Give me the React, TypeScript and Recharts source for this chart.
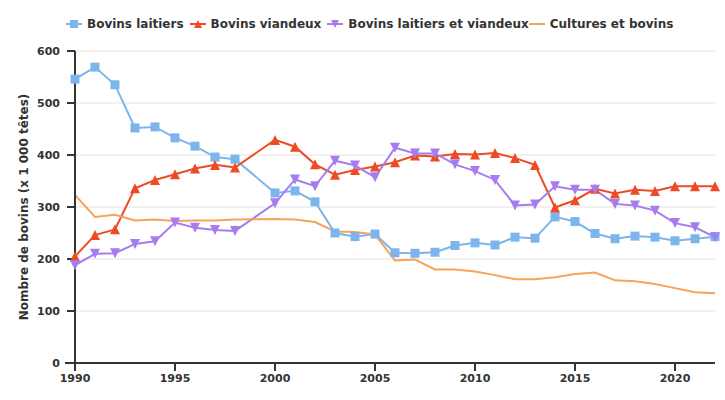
import React from 'react';
import { LineChart, Line, XAxis, YAxis, CartesianGrid, Legend, ReferenceLine } from 'recharts';

const years = [1990, 1991, 1992, 1993, 1994, 1995, 1996, 1997, 1998, 2000, 2001, 2002, 2003, 2004, 2005, 2006, 2007, 2008, 2009, 2010, 2011, 2012, 2013, 2014, 2015, 2016, 2017, 2018, 2019, 2020, 2021, 2022];
const laitiers = [546, 569, 535, 452, 454, 433, 417, 396, 392, 327, 331, 310, 250, 243, 248, 212, 211, 213, 226, 231, 227, 242, 240, 281, 272, 249, 239, 244, 242, 235, 239, 243];
const viandeux = [205, 246, 257, 336, 352, 363, 374, 381, 376, 429, 416, 382, 362, 371, 378, 386, 399, 397, 402, 401, 404, 394, 381, 299, 313, 335, 326, 333, 331, 340, 340, 340];
const mixtes = [188, 210, 211, 229, 234, 270, 260, 256, 254, 307, 353, 340, 389, 380, 357, 414, 403, 403, 382, 369, 352, 303, 305, 340, 333, 333, 306, 303, 293, 269, 261, 242];
const cultures = [323, 281, 285, 274, 276, 273, 274, 274, 276, 277, 276, 271, 253, 252, 247, 197, 199, 180, 180, 176, 169, 161, 161, 165, 171, 174, 159, 157, 152, 144, 136, 134];

const xTicks = [1990, 1995, 2000, 2005, 2010, 2015, 2020];
const yTicks = [0, 100, 200, 300, 400, 500, 600];

const seriesNames = ['Bovins laitiers', 'Bovins viandeux', 'Bovins laitiers et viandeux', 'Cultures et bovins'];
const yLabel = 'Nombre de bovins (x 1 000 têtes)';

const COLORS = ['#7cb5ec', '#ef4a26', '#a77cf0', '#f7a35c'];
const SHAPES = ['square', 'triangle', 'triangle-down', 'none'];

const data = years.map((y, i) => ({
  year: y,
  laitiers: laitiers[i],
  viandeux: viandeux[i],
  mixtes: mixtes[i],
  cultures: cultures[i],
}));

const FONT = "'DejaVu Sans', sans-serif";
const TEXT = '#333333';

function markerPath(shape: string, cx: number, cy: number, r: number) {
  if (shape === 'square') return `M${cx - r},${cy - r}h${2 * r}v${2 * r}h${-2 * r}Z`;
  if (shape === 'triangle') return `M${cx},${cy - r}L${cx + r},${cy + r}L${cx - r},${cy + r}Z`;
  if (shape === 'triangle-down') return `M${cx - r},${cy - r}L${cx + r},${cy - r}L${cx},${cy + r}Z`;
  return '';
}

const makeDot = (shape: string, color: string) => (props: any) => {
  const { cx, cy, index } = props;
  if (cx == null || cy == null) return <g key={`d-${index}`} />;
  const r = shape === 'square' ? 4.5 : 5;
  return <path key={`d-${shape}-${index}`} d={markerPath(shape, cx, cy, r)} fill={color} />;
};

const LegendContent = () => (
  <div style={{ display: 'flex', alignItems: 'center', whiteSpace: 'nowrap', fontFamily: FONT, fontWeight: 'bold', fontSize: 12, color: TEXT, lineHeight: '14px' }}>
    {seriesNames.map((n, i) => (
      <div key={n} style={{ display: 'flex', alignItems: 'center', marginRight: i === 2 ? 0 : 6 }}>
        <svg width={16} height={12} style={{ marginRight: 5 }}>
          <line x1={0} y1={6} x2={16} y2={6} stroke={COLORS[i]} strokeWidth={2} />
          {SHAPES[i] !== 'none' && <path d={markerPath(SHAPES[i], 8, 6, 4)} fill={COLORS[i]} />}
        </svg>
        <span>{n}</span>
      </div>
    ))}
  </div>
);

const YLabel = () => (
  <text x={28} y={207} transform="rotate(-90, 28, 207)" textAnchor="middle" fontFamily={FONT} fontWeight="bold" fontSize={12} fill={TEXT}>
    {yLabel}
  </text>
);

export default function App() {
  const tickStyle = { fontFamily: FONT, fontWeight: 'bold' as const, fontSize: 11, fill: TEXT };
  return (
    <div style={{ position: 'absolute', left: 0, top: 0, width: 725, height: 400, background: '#fff' }}>
      <LineChart width={725} height={400} data={data} margin={{ top: 51, right: 10, bottom: 0, left: 0 }}>
        <CartesianGrid vertical={false} stroke="#e3e3e3" strokeWidth={1} />
        <XAxis
          dataKey="year"
          type="number"
          domain={[1990, 2022]}
          ticks={xTicks}
          height={37}
          tickSize={8}
          tickMargin={3}
          tick={tickStyle}
          axisLine={{ stroke: '#333', strokeWidth: 2 }}
          tickLine={{ stroke: '#333', strokeWidth: 2 }}
        />
        <YAxis
          type="number"
          domain={[0, 600]}
          ticks={yTicks}
          width={75}
          tickSize={8}
          tickMargin={7}
          tick={tickStyle}
          axisLine={{ stroke: '#333', strokeWidth: 2 }}
          tickLine={{ stroke: '#333', strokeWidth: 2 }}
          label={{ content: YLabel }}
        />
        <ReferenceLine
          segment={[{ x: 1989.5, y: 0 }, { x: 2022, y: 0 }]}
          stroke="#333"
          strokeWidth={2}
          ifOverflow="visible"
        />
        <Legend
          layout="horizontal"
          verticalAlign="middle"
          align="center"
          wrapperStyle={{ left: 66, top: 17, width: 659, height: 14 }}
          content={LegendContent}
        />
        <Line type="linear" dataKey="laitiers" name={seriesNames[0]} stroke={COLORS[0]} strokeWidth={2} dot={makeDot('square', COLORS[0])} activeDot={false} isAnimationActive={false} />
        <Line type="linear" dataKey="viandeux" name={seriesNames[1]} stroke={COLORS[1]} strokeWidth={2} dot={makeDot('triangle', COLORS[1])} activeDot={false} isAnimationActive={false} />
        <Line type="linear" dataKey="mixtes" name={seriesNames[2]} stroke={COLORS[2]} strokeWidth={2} dot={makeDot('triangle-down', COLORS[2])} activeDot={false} isAnimationActive={false} />
        <Line type="linear" dataKey="cultures" name={seriesNames[3]} stroke={COLORS[3]} strokeWidth={2} dot={false} activeDot={false} isAnimationActive={false} />
      </LineChart>
    </div>
  );
}
